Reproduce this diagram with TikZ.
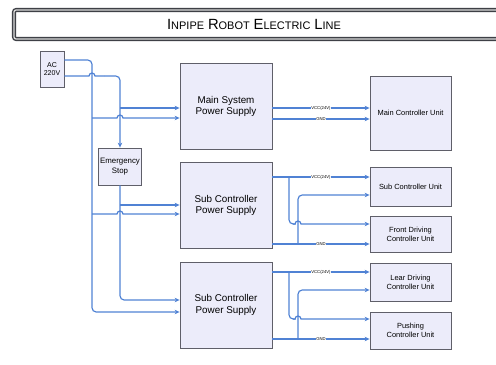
\documentclass[tikz,border=0pt]{standalone}
\usepackage{fontspec}
\setmainfont{Liberation Sans}
\usetikzlibrary{arrows.meta,positioning}

\definecolor{boxfill}{RGB}{236,236,250}
\definecolor{boxline}{RGB}{95,95,105}
\definecolor{wireblue}{RGB}{80,130,212}
\definecolor{framedark}{RGB}{62,64,70}

\newcommand{\titleword}[2]{{\fontsize{10.5}{11}\selectfont #1}{\fontsize{7.8}{8}\selectfont #2}}

\begin{document}
\begin{tikzpicture}[
    x=0.025cm, y=-0.025cm,
    box/.style={draw=boxline, fill=boxfill, line width=0.6pt, inner sep=1pt, align=center},
    supply/.style={box, minimum width=2.3cm, minimum height=2.15cm, font=\fontsize{7}{8.2}\selectfont},
    unit/.style={box, minimum width=2.025cm, font=\fontsize{5.3}{6.6}\selectfont},
    wire/.style={draw=wireblue, line width=0.85pt},
    feed/.style={wire, -{Stealth[length=3.5pt, width=3.2pt]}},
    tag/.style={font=\fontsize{3}{3}\selectfont, fill=white, inner sep=0.3pt},
    hop/.style={start angle=180, end angle=0, radius=0.075cm},
  ]
    \useasboundingbox (0,0) rectangle (496,364);

    % Title banner
    \draw[framedark, line width=1pt, double=gray!30, double distance=0.9pt, rounded corners=1.5pt] (14,10) rectangle (502,39);
    \node (title) at (254,24.5) {\titleword{I}{NPIPE} \titleword{R}{OBOT} \titleword{E}{LECTRIC} \titleword{L}{INE}};

    % Nodes
    \node[box, minimum width=0.6cm, minimum height=0.9cm, font=\fontsize{5}{6}\selectfont] (ac) at (52,69) {AC\\220V};
    \node[box, minimum width=1.05cm, minimum height=0.925cm, font=\fontsize{5.6}{7.5}\selectfont] (estop) at (120,166.5) {Emergency\\Stop};

    \node[supply] (mainps) at (226,106.5) {Main System\\Power Supply};
    \node[supply] (subps1) at (226,205.5) {Sub Controller\\Power Supply};
    \node[supply] (subps2) at (226,305) {Sub Controller\\Power Supply};

    \node[unit, minimum height=1.85cm] (mcu) at (410.5,113) {Main Controller Unit};
    \node[unit, minimum height=0.975cm] (scu) at (410.5,186.5) {Sub Controller Unit};
    \node[unit, minimum height=0.9cm] (fdu) at (410.5,234) {Front Driving\\Controller Unit};
    \node[unit, minimum height=0.95cm] (ldu) at (410.5,282) {Lear Driving\\Controller Unit};
    \node[unit, minimum height=0.925cm] (pcu) at (410.5,330.5) {Pushing\\Controller Unit};

    % AC feed, bypass line
    \draw[feed, rounded corners=3pt] (ac.east |- 0,60) -- (92,60) -- (92,312) -- (subps2.west |- 0,312);
    \draw[feed] (92,118) -- (117,118) arc[hop] -- (mainps.west |- 0,118);
    \draw[feed] (92,214) -- (117,214) arc[hop] -- (subps1.west |- 0,214);

    % AC feed, through the emergency stop
    \draw[wire] (ac.east |- 0,76) -- (89,76) arc[hop] -- (104,76);
    \draw[feed, rounded corners=3pt] (104,76) -- (120,76) -- (estop.north);
    \draw[feed] (120,108) -- (mainps.west |- 0,108);
    \draw[feed, rounded corners=3pt] (estop.south) -- (120,300) -- (subps2.west |- 0,300);
    \draw[feed] (120,205) -- (subps1.west |- 0,205);

    % Main supply
    \draw[feed] (mainps.east |- 0,108) -- node[tag] {VCC(24V)} (mcu.west |- 0,108);
    \draw[feed] (mainps.east |- 0,119) -- node[tag] {GND} (mcu.west |- 0,119);

    % Sub supply 1
    \draw[feed] (subps1.east |- 0,177) -- node[tag] {VCC(24V)} (scu.west |- 0,177);
    \draw[feed] (subps1.east |- 0,244) -- node[tag] {GND} (fdu.west |- 0,244);
    \draw[wire, rounded corners=3pt] (289,177) -- (289,224) -- (293,224);
    \draw[feed] (293,224) -- (295,224) arc[hop] -- (fdu.west |- 0,224);
    \draw[feed, rounded corners=3pt] (298,244) -- (298,195) -- (scu.west |- 0,195);

    % Sub supply 2
    \draw[feed] (subps2.east |- 0,272) -- node[tag] {VCC(24V)} (ldu.west |- 0,272);
    \draw[feed] (subps2.east |- 0,339) -- node[tag] {GND} (pcu.west |- 0,339);
    \draw[wire, rounded corners=3pt] (289,272) -- (289,319) -- (293,319);
    \draw[feed] (293,319) -- (295,319) arc[hop] -- (pcu.west |- 0,319);
    \draw[feed, rounded corners=3pt] (298,339) -- (298,290) -- (ldu.west |- 0,290);
\end{tikzpicture}
\end{document}
